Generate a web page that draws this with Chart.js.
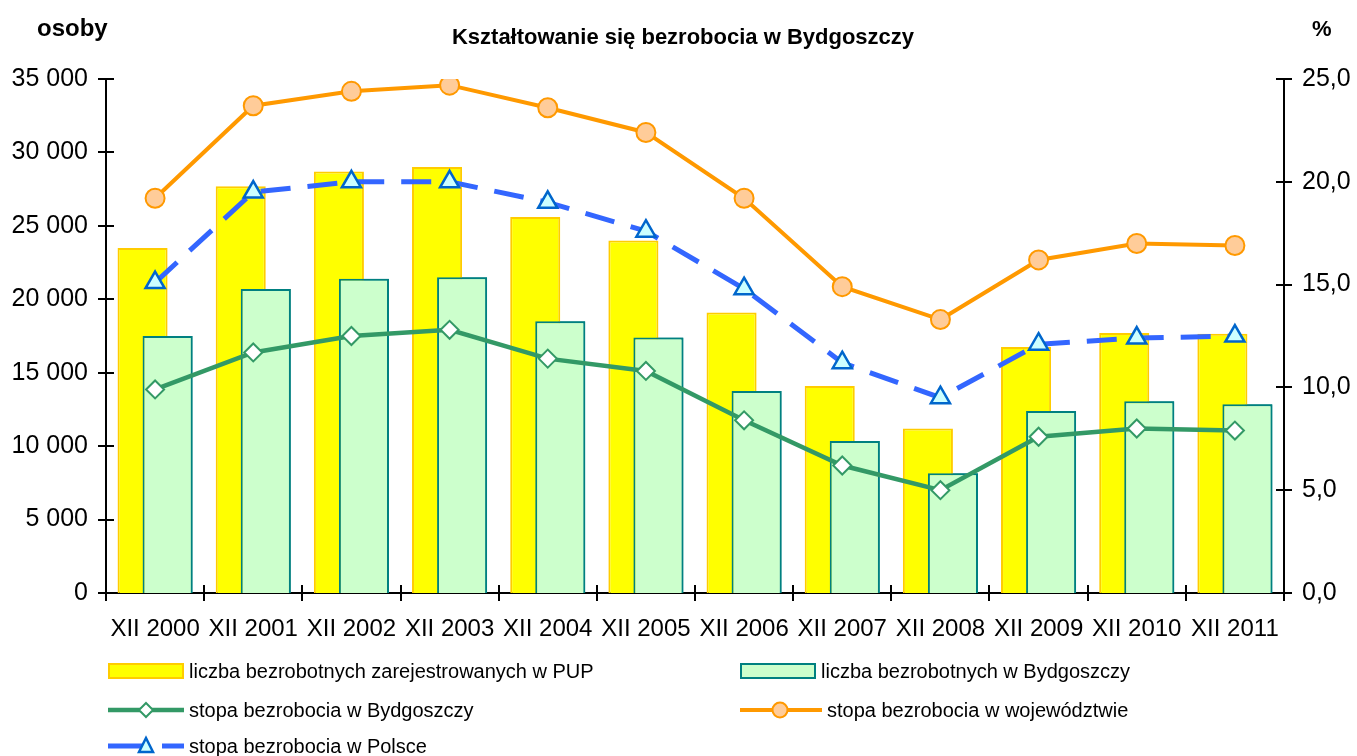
<!DOCTYPE html>
<html>
<head>
<meta charset="utf-8">
<script src="https://cdn.jsdelivr.net/npm/chart.js@4"></script>
<style>
  body { margin: 0; background: #fff; font-family: "Liberation Sans", Arial, sans-serif; }
  #wrap { position: relative; width: 1357px; height: 756px; overflow: hidden; }
  canvas { position: absolute; left: 0; top: 0; }
  .lbl { position: absolute; font-weight: bold; color: #000; white-space: nowrap; }
  .leg { position: absolute; display: flex; align-items: center; font-size: 20px; color: #000; white-space: nowrap; }
  .leg svg { margin-right: 5px; }
</style>
</head>
<body>
<div id="wrap">
  <canvas id="chart" width="1357" height="756"></canvas>
  <div class="lbl" style="left:37px; top:14px; font-size:24px;">osoby</div>
  <div class="lbl" style="left:0; width:1366px; text-align:center; top:24px; font-size:22px;">Kształtowanie się bezrobocia w Bydgoszczy</div>
  <div class="lbl" style="left:1312px; top:16px; font-size:22px;">%</div>
  <div id="legend"></div>
</div>
<script>
// dane
const years = ["XII 2000", "XII 2001", "XII 2002", "XII 2003", "XII 2004", "XII 2005",
               "XII 2006", "XII 2007", "XII 2008", "XII 2009", "XII 2010", "XII 2011"];
const pupCount = [23500, 27700, 28700, 29000, 25600, 24000, 19100, 14100, 11200, 16750, 17700, 17650];
const cityCount = [17500, 20700, 21400, 21500, 18500, 17400, 13750, 10350, 8150, 12400, 13050, 12850];
const cityRate = [9.9, 11.7, 12.5, 12.8, 11.4, 10.8, 8.4, 6.2, 5.0, 7.6, 8.0, 7.9];
const regionRate = [19.2, 23.7, 24.4, 24.7, 23.6, 22.4, 19.2, 14.9, 13.3, 16.2, 17.0, 16.9];
const polandRate = [15.1, 19.5, 20.0, 20.0, 19.0, 17.6, 14.8, 11.2, 9.5, 12.1, 12.4, 12.5];

const countTicks = [0, 5000, 10000, 15000, 20000, 25000, 30000, 35000];
const rateTicks = [0, 5, 10, 15, 20, 25];

const legendItems = [
  { text: "liczba bezrobotnych zarejestrowanych w PUP", kind: "bar", fill: "#FFFF00", stroke: "#FFCC00", x: 108, y: 671 },
  { text: "liczba bezrobotnych w Bydgoszczy", kind: "bar", fill: "#CCFFCC", stroke: "#008080", x: 740, y: 671 },
  { text: "stopa bezrobocia w Bydgoszczy", kind: "diamond", stroke: "#339966", fill: "#FFFFFF", x: 108, y: 710 },
  { text: "stopa bezrobocia w województwie", kind: "circle", stroke: "#FF9900", fill: "#FFCC99", x: 740, y: 710 },
  { text: "stopa bezrobocia w Polsce", kind: "triangle", stroke: "#3366FF", edge: "#0066CC", fill: "#CCFFFF", x: 108, y: 746 }
];

function fmtCount(v) {
  return String(v).replace(/\B(?=(\d{3})+(?!\d))/g, " ");
}

// zielone słupki mają leżeć na żółtych, ale po prawej stronie
const overlapBars = {
  id: "overlapBars",
  afterDatasetDraw(chart, args) {
    if (args.index === 0) {
      chart.getDatasetMeta(1).controller.draw();
    }
  }
};

// kreski podziałki po obu stronach osi
const crossTicks = {
  id: "crossTicks",
  afterDraw(chart) {
    const ctx = chart.ctx;
    const x = chart.scales.x, y = chart.scales.y, y1 = chart.scales.y1;
    const len = 8;
    ctx.save();
    ctx.strokeStyle = "#000";
    ctx.lineWidth = 2;
    ctx.beginPath();
    const half = (x.getPixelForValue(1) - x.getPixelForValue(0)) / 2;
    for (let i = 0; i <= years.length; i++) {
      const px = Math.round(x.getPixelForValue(i) - half);
      ctx.moveTo(px, x.top - len);
      ctx.lineTo(px, x.top + len);
    }
    countTicks.forEach(v => {
      const py = Math.round(y.getPixelForValue(v));
      ctx.moveTo(y.right - len, py);
      ctx.lineTo(y.right + len, py);
    });
    rateTicks.forEach(v => {
      const py = Math.round(y1.getPixelForValue(v));
      ctx.moveTo(y1.left - len, py);
      ctx.lineTo(y1.left + len, py);
    });
    ctx.stroke();
    ctx.restore();
  }
};

const tickFont = { family: "'Liberation Sans', Arial, sans-serif", size: 24 };

new Chart(document.getElementById("chart"), {
  type: "bar",
  data: {
    labels: years,
    datasets: [
      {
        label: "liczba bezrobotnych zarejestrowanych w PUP",
        data: pupCount,
        backgroundColor: "#FFFF00",
        borderColor: "#FFCC00",
        borderWidth: 2,
        barPercentage: 2,
        categoryPercentage: 0.51,
        yAxisID: "y",
        order: 1
      },
      {
        label: "liczba bezrobotnych w Bydgoszczy",
        data: cityCount,
        backgroundColor: "#CCFFCC",
        borderColor: "#008080",
        borderWidth: 2,
        barPercentage: 2,
        categoryPercentage: 0.51,
        yAxisID: "y",
        order: 1
      },
      {
        type: "line",
        label: "stopa bezrobocia w Bydgoszczy",
        data: cityRate,
        yAxisID: "y1",
        borderColor: "#339966",
        borderWidth: 4.5,
        pointStyle: "rectRot",
        pointRadius: 9,
        pointBackgroundColor: "#FFFFFF",
        pointBorderColor: "#339966",
        pointBorderWidth: 2,
        tension: 0,
        order: 0
      },
      {
        type: "line",
        label: "stopa bezrobocia w województwie",
        data: regionRate,
        yAxisID: "y1",
        borderColor: "#FF9900",
        borderWidth: 4,
        pointStyle: "circle",
        pointRadius: 9.5,
        pointBackgroundColor: "#FFCC99",
        pointBorderColor: "#FF9900",
        pointBorderWidth: 2,
        tension: 0,
        order: 0
      },
      {
        type: "line",
        label: "stopa bezrobocia w Polsce",
        data: polandRate,
        yAxisID: "y1",
        borderColor: "#3366FF",
        borderWidth: 5,
        borderDash: [30, 17],
        pointStyle: "triangle",
        pointRadius: 11,
        pointBackgroundColor: "#CCFFFF",
        pointBorderColor: "#0066CC",
        pointBorderWidth: 2.5,
        tension: 0,
        order: 0
      }
    ]
  },
  options: {
    responsive: false,
    animation: false,
    layout: { padding: { top: 79, left: 0, right: 0, bottom: 0 } },
    plugins: {
      legend: { display: false },
      title: { display: false },
      tooltip: { enabled: false }
    },
    scales: {
      x: {
        grid: { display: false, drawTicks: false },
        border: { display: true, color: "#000", width: 2 },
        ticks: { color: "#000", font: tickFont, padding: 22, maxRotation: 0, autoSkip: false },
        afterFit(scale) { scale.height = 163; }
      },
      y: {
        position: "left",
        min: 0,
        max: 35000,
        grid: { display: false, drawTicks: false },
        border: { display: true, color: "#000", width: 2 },
        ticks: { stepSize: 5000, color: "#000", font: { family: tickFont.family, size: 25 }, padding: 18, callback: v => fmtCount(v) },
        afterFit(scale) { scale.width = 106; }
      },
      y1: {
        position: "right",
        min: 0,
        max: 25,
        grid: { display: false, drawTicks: false },
        border: { display: true, color: "#000", width: 2 },
        ticks: { stepSize: 5, color: "#000", font: { family: tickFont.family, size: 25 }, padding: 18, callback: v => v.toFixed(1).replace(".", ",") },
        afterFit(scale) { scale.width = 73; }
      }
    }
  },
  plugins: [overlapBars, crossTicks]
});

// legenda w HTML
const legend = document.getElementById("legend");
legendItems.forEach(item => {
  const div = document.createElement("div");
  div.className = "leg";
  div.style.left = item.x + "px";
  div.style.top = (item.y - 13) + "px";
  div.style.height = "26px";
  let svg = "";
  if (item.kind === "bar") {
    svg = `<svg width="76" height="16"><rect x="1" y="1" width="74" height="14" fill="${item.fill}" stroke="${item.stroke}" stroke-width="2"/></svg>`;
  } else if (item.kind === "diamond") {
    svg = `<svg width="76" height="20"><line x1="0" y1="10" x2="76" y2="10" stroke="${item.stroke}" stroke-width="4.5"/>` +
          `<polygon points="38,3 45,10 38,17 31,10" fill="${item.fill}" stroke="${item.stroke}" stroke-width="2"/></svg>`;
  } else if (item.kind === "circle") {
    svg = `<svg width="82" height="22"><line x1="0" y1="11" x2="82" y2="11" stroke="${item.stroke}" stroke-width="4"/>` +
          `<circle cx="40" cy="11" r="7.5" fill="${item.fill}" stroke="${item.stroke}" stroke-width="2"/></svg>`;
  } else {
    svg = `<svg width="76" height="22"><line x1="0" y1="11" x2="76" y2="11" stroke="${item.stroke}" stroke-width="5" stroke-dasharray="40,14"/>` +
          `<polygon points="38,3 45,17 31,17" fill="${item.fill}" stroke="${item.edge}" stroke-width="2.5"/></svg>`;
  }
  div.innerHTML = svg + "<span>" + item.text + "</span>";
  legend.appendChild(div);
});
</script>
</body>
</html>
